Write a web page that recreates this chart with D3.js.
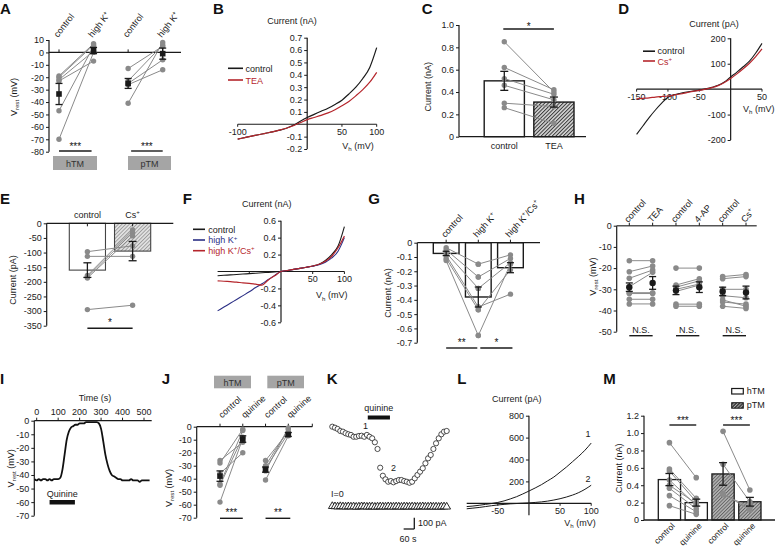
<!DOCTYPE html>
<html><head><meta charset="utf-8">
<script src="https://cdn.jsdelivr.net/npm/d3@7"></script>
<style>
html,body{margin:0;padding:0;background:#fff;}
svg{display:block;font-family:"Liberation Sans",Arial,Helvetica,sans-serif;}
</style></head><body>
<script>
// ---------------- DATA ----------------
// A
const aCats = ["hTM control","hTM high K+","pTM control","pTM high K+"];
const aCatLabels = ["control","high K^{+}","control","high K^{+}"];
const aHtmControl = [-19,-20,-22,-23,-47,-70];
const aHtmHighK   = [7,6,1,-7,5,0];
const aPtmControl = [-13,-23,-25,-26,-41];
const aPtmHighK   = [5,6,-6,-14,8];
const aMeans = [-33.5,1.5,-25,-1];
const aErr   = [8.5,2.5,4,4.5];
const aYTicks = [10,0,-10,-20,-30,-40,-50,-60,-70,-80];
// B
const bVoltage = [-100,-90,-80,-70,-60,-50,-40,-30,-20,-10,0,10,20,30,40,50,60,70,80,90,100];
const bControl = [-0.12,-0.108,-0.096,-0.085,-0.073,-0.062,-0.048,-0.032,-0.008,0.025,0.055,0.08,0.105,0.13,0.16,0.195,0.245,0.3,0.37,0.46,0.62];
const bTEA     = [-0.12,-0.108,-0.096,-0.085,-0.073,-0.062,-0.048,-0.032,-0.012,0.012,0.038,0.055,0.072,0.092,0.118,0.15,0.185,0.23,0.28,0.34,0.42];
const bYTicks = [0.7,0.6,0.5,0.4,0.3,0.2,0.1,-0.1,-0.2];
const bXTicks = [-100,50,100];
// C
const cCats = ["control","TEA"];
const cMeans = [0.5,0.31];
const cErr = [0.085,0.045];
const cControl = [0.85,0.62,0.52,0.46,0.30,0.26];
const cTEA     = [0.40,0.42,0.38,0.33,0.27,0.12];
const cYTicks = [0,0.2,0.4,0.6,0.8,1.0];
// D
const dVoltage = [-150,-140,-130,-120,-110,-100,-90,-80,-70,-60,-50,-40,-30,-20,-10,0,10,20,30,40,50];
const dControl = [-178,-145,-112,-82,-55,-32,-22,-16,-11,-7,-4,1,7,15,28,48,67,88,110,142,180];
const dCs      = [-38,-36,-34,-31,-29,-27,-23,-19,-14,-9,-5,0,6,14,26,42,60,80,102,128,158];
const dYTicks = [200,100,-100,-200];
const dXTicks = [-150,-100,-50,50];
// E
const eCats = ["control","Cs^{+}"];
const eMeans = [-160,-95];
const eErr = [25,33];
const eControl = [-97,-113,-178,-183,-187,-295];
const eCs      = [-77,-113,-23,-32,-43,-280];
const eYTicks = [0,-50,-100,-150,-200,-250,-300,-350];
// F
const fVoltage = [-100,-90,-80,-70,-60,-50,-40,-30,-20,-10,0,10,20,30,40,50,60,70,80,90,100];
const fControl = [-0.05,-0.045,-0.04,-0.035,-0.03,-0.025,-0.02,-0.015,-0.01,-0.005,0,0.012,0.025,0.037,0.05,0.065,0.085,0.13,0.2,0.3,0.53];
const fHighK   = [-0.465,-0.42,-0.375,-0.33,-0.285,-0.24,-0.19,-0.145,-0.095,-0.047,0,0.012,0.025,0.037,0.05,0.063,0.08,0.11,0.16,0.24,0.4];
const fHighKCs = [-0.11,-0.115,-0.12,-0.125,-0.135,-0.14,-0.15,-0.16,-0.1,-0.05,0,0.012,0.025,0.037,0.05,0.065,0.085,0.12,0.18,0.28,0.42];
const fYTicks = [0.6,0.4,0.2,-0.2,-0.4,-0.6];
const fXTicks = [50,100];
// G
const gCats = ["control","high K^{+}","high K^{+}/Cs^{+}"];
const gMeans = [-0.075,-0.38,-0.175];
const gErr = [0.015,0.07,0.035];
const gControl = [-0.035,-0.05,-0.07,-0.09,-0.11,-0.125];
const gHighK   = [-0.15,-0.24,-0.32,-0.45,-0.47,-0.65];
const gHighKCs = [-0.085,-0.11,-0.14,-0.36,-0.19,-0.15];
const gYTicks = [0,-0.1,-0.2,-0.3,-0.4,-0.5,-0.6,-0.7];
// H
const hCatLabels = ["control","TEA","control","4-AP","control","Cs^{+}"];
const hTeaControl = [-16.5,-21.7,-24.8,-28.8,-31.6,-32,-34.7,-36.9];
const hTea        = [-16.5,-19,-20.9,-22,-31.6,-32,-34.7,-36.9];
const hApControl  = [-20,-28,-29,-30,-31,-37,-38];
const hAp         = [-20,-25,-26,-27.5,-28,-37,-38];
const hCsControl  = [-24,-25,-30,-33,-35,-36,-38];
const hCs         = [-23,-24,-30,-34,-38,-37,-39];
const hMeans = [-29,-27,-30.5,-29,-31,-31.5];
const hErr   = [2,3,2,2.5,2,3];
const hYTicks = [0,-10,-20,-30,-40,-50];
// I
const iTime  = [-10,0,10,20,30,40,50,60,70,80,90,100,110,120,130,140,150,160,170,180,190,200,210,220,230,240,250,260,270,280,290,300,310,320,330,340,350,360,370,380,390,400,410,420,430,440,450,460,470,480,490,500,510,520,526];
const iVrest = [-43,-44,-43,-44,-43,-43,-44,-43,-44,-43,-43,-43,-42,-36,-25,-14,-8,-5,-4,-3,-3,-2,-2,-2,-1,-1,-1,-1,-1,-1,-2,-6,-15,-25,-32,-37,-40,-41,-42,-43,-43,-44,-44,-44,-44,-43,-44,-44,-44,-45,-44,-44,-44,-44,-44];
const iQuinine = [60,178];
const iYTicks = [0,-10,-20,-30,-40,-50,-60,-70];
const iXTicks = [0,100,200,300,400,500];
// J
const jCats = ["hTM control","hTM quinine","pTM control","pTM quinine"];
const jCatLabels = ["control","quinine","control","quinine"];
const jHtmControl = [-26,-28,-36,-44,-45,-58];
const jHtmQuinine = [-12,-2,-20,-3,-8,-9];
const jPtmControl = [-26,-30,-32,-34,-41];
const jPtmQuinine = [-4,-2,-5,-1,-7];
const jMeans = [-38,-9.5,-33,-6];
const jErr   = [4,2.5,2,1.5];
const jYTicks = [0,-10,-20,-30,-40,-50,-60,-70];
// K
const kSampleInterval = 15; // s
const kCurrent = [708,699,688,670,664,650,641,635,619,619,626,628,619,635,619,605,570,511,345,274,242,221,227,216,227,236,236,227,221,212,221,251,281,310,340,384,428,458,511,561,605,641,664,670];
const kIzero   = [4,2,0,3,1,-1,2,0,1,-2,0,2,1,-1,0,1,-2,0,1,0,-1,2,0,-1,1,0,-2,1,0,-1,1,0,-1,0,2,-1,0,1,-1,0,-2,0,1,-1];
const kQuinine = [200,325];
// L
const lVoltage = [-100,-90,-80,-70,-60,-50,-40,-30,-20,-10,0,10,20,30,40,50,60,70,80,90,100];
const lTrace1 = [-30,-25,-18,-10,-2,8,22,40,60,85,112,140,170,205,240,285,330,380,430,485,550];
const lTrace2 = [-50,-44,-38,-30,-22,-15,-10,-5,-2,1,4,8,13,20,30,42,57,75,98,128,165];
const lYTicks = [800,600,400,200];
const lXTicks = [-50,50,100];
// M
const mCats = ["hTM control","hTM quinine","pTM control","pTM quinine"];
const mCatLabels = ["control","quinine","control","quinine"];
const mMeans = [0.465,0.2,0.53,0.21];
const mErr   = [0.07,0.04,0.13,0.05];
const mHtmControl = [0.89,0.587,0.564,0.46,0.40,0.365,0.28,0.165];
const mHtmQuinine = [0.487,0.25,0.21,0.17,0.19,0.13,0.095,0.065];
const mPtmControl = [1.02,0.64,0.307,0.29];
const mPtmQuinine = [0.345,0.21,0.115,0.153];
const mYTicks = [0,0.2,0.4,0.6,0.8,1.0,1.2];

// ---------------- HELPERS ----------------
const W=775,H=546,FS=9;
const INK="#1a1a1a", GRAY="#8a8a8a", RED="#b5262c", BLUE="#2b2f85";
const svg=d3.select("body").append("svg").attr("width",W).attr("height",H);
const defs=svg.append("defs");
function hatch(id,bg,fg,sp,sw){
  const p=defs.append("pattern").attr("id",id).attr("patternUnits","userSpaceOnUse")
    .attr("width",sp).attr("height",sp).attr("patternTransform","rotate(45)");
  p.append("rect").attr("width",sp).attr("height",sp).attr("fill",bg);
  p.append("line").attr("x1",0.5).attr("y1",0).attr("x2",0.5).attr("y2",sp).attr("stroke",fg).attr("stroke-width",sw);
}
hatch("hC","#d4d4d4","#2a2a2a",2.6,0.9);
hatch("hE","#e2e2e2","#8f8f8f",2.6,0.8);
hatch("hM","#b4b4b4","#555",2.4,0.8);
hatch("hML","#3a3a3a","#d0d0d0",2.4,0.7);

function rich(t,str,size){
  const parts=[]; const re=/([_^])\{([^}]*)\}/g; let last=0,m;
  while((m=re.exec(str))){ if(m.index>last) parts.push({s:str.slice(last,m.index)}); parts.push({s:m[2],k:m[1]}); last=re.lastIndex; }
  if(last<str.length) parts.push({s:str.slice(last)});
  let cur=0;
  parts.forEach(p=>{
    const target=p.k==="^"?-size*0.4:p.k==="_"?size*0.3:0;
    const ts=t.append("tspan").text(p.s);
    if(target!==cur) ts.attr("dy",target-cur);
    if(p.k) ts.attr("font-size",size*0.68);
    cur=target;
  });
  return t;
}
function text(g,x,y,str,o={}){
  const size=o.size||FS;
  const t=g.append("text").attr("x",x).attr("y",y).attr("font-size",size)
    .attr("text-anchor",o.anchor||"start").attr("fill",o.fill||INK);
  if(o.weight) t.attr("font-weight",o.weight);
  rich(t,str,size);
  return t;
}
function rotText(g,x,y,str,angle,anchor,size){
  size=size||FS;
  const t=g.append("text").attr("transform",`translate(${x},${y}) rotate(${angle})`)
    .attr("font-size",size).attr("fill",INK).attr("text-anchor",anchor||"start");
  rich(t,str,size); return t;
}
function yTitle(g,x,y,str){ return rotText(g,x,y,str,-90,"middle"); }
function plabel(x,y,s){ svg.append("text").attr("x",x).attr("y",y).attr("font-size",15).attr("font-weight","bold").attr("fill","#111").text(s); }
const fmtNum=d=>d===0?"0":String(d);
const fmt1=d=>d===0?"0":d.toFixed(1);
function yAxis(g,scale,x,vals,fmt,extent){
  const a=g.append("g").attr("transform",`translate(${x},0)`)
    .call(d3.axisLeft(scale).tickValues(vals).tickFormat(fmt).tickSize(3).tickSizeOuter(0).tickPadding(2));
  a.attr("font-family",null).attr("font-size",FS);
  a.selectAll("text").attr("fill",INK);
  a.selectAll("line").attr("stroke",INK);
  a.select(".domain").remove();
  const ext=extent||scale.domain();
  a.append("line").attr("x1",0).attr("x2",0).attr("y1",scale(ext[0])).attr("y2",scale(ext[1])).attr("stroke",INK).attr("stroke-width",1.2);
  return a;
}
function hline(g,x1,x2,y,o={}){ return g.append("line").attr("x1",x1).attr("x2",x2).attr("y1",y).attr("y2",y).attr("stroke",o.stroke||INK).attr("stroke-width",o.w||1.2); }
function vline(g,x,y1,y2,o={}){ return g.append("line").attr("x1",x).attr("x2",x).attr("y1",y1).attr("y2",y2).attr("stroke",o.stroke||INK).attr("stroke-width",o.w||1.2); }
function pairs(g,x1,x2,v1,v2,y,r){
  r=r||2.7;
  v1.forEach((a,i)=>g.append("line").attr("x1",x1).attr("y1",y(a)).attr("x2",x2).attr("y2",y(v2[i])).attr("stroke",GRAY).attr("stroke-width",1));
  v1.forEach(a=>g.append("circle").attr("cx",x1).attr("cy",y(a)).attr("r",r).attr("fill",GRAY));
  v2.forEach(a=>g.append("circle").attr("cx",x2).attr("cy",y(a)).attr("r",r).attr("fill",GRAY));
}
function errbar(g,x,m,e,y,marker,cap){
  cap=cap||3.5;
  vline(g,x,y(m-e),y(m+e),{w:1.3});
  hline(g,x-cap,x+cap,y(m-e),{w:1.3}); hline(g,x-cap,x+cap,y(m+e),{w:1.3});
  if(marker==="square") g.append("rect").attr("x",x-2.8).attr("y",y(m)-2.8).attr("width",5.6).attr("height",5.6).attr("fill",INK);
  if(marker==="circle") g.append("circle").attr("cx",x).attr("cy",y(m)).attr("r",3.2).attr("fill",INK);
}
function sig(g,x1,x2,yLine,str,yText){ hline(g,x1,x2,yLine,{w:1.4}); text(g,(x1+x2)/2,yText,str,{anchor:"middle",size:10,fill:"#111"}); }
function trace(g,xs,ys,x,y,color,w){
  g.append("path").datum(xs.map((v,i)=>[v,ys[i]])).attr("fill","none").attr("stroke",color).attr("stroke-width",w||1.1)
    .attr("stroke-linejoin","round").attr("d",d3.line().x(d=>x(d[0])).y(d=>y(d[1])).curve(d3.curveMonotoneX));
}
function xAxisIV(g,x,y,ticks,labY){
  hline(g,x.range()[0],x.range()[1],y(0),{w:1.2});
  ticks.forEach(t=>{ vline(g,x(t),y(0),y(0)+2.5,{w:1}); text(g,x(t),labY,fmtNum(t),{anchor:"middle"}); });
}

// ---------------- PANEL A ----------------
{
  const g=svg.append("g");
  plabel(0,14,"A");
  const y=d3.scaleLinear().domain([-80,10]).range([151.7,40]);
  const x=d3.scalePoint().domain(aCats).range([59,162.7]);
  yAxis(g,y,49,aYTicks,fmtNum);
  hline(g,49,181,y(0),{w:1.4});
  aCats.forEach(c=>vline(g,x(c),y(0),y(0)-3,{w:1}));
  pairs(g,x(aCats[0]),x(aCats[1]),aHtmControl,aHtmHighK,y);
  pairs(g,x(aCats[2]),x(aCats[3]),aPtmControl,aPtmHighK,y);
  aCats.forEach((c,i)=>errbar(g,x(c),aMeans[i],aErr[i],y,"square"));
  aCats.forEach((c,i)=>rotText(g,x(c)-1,38,aCatLabels[i],-52));
  yTitle(g,16.5,97,"V_{rest} (mV)");
  sig(g,x(aCats[0]),x(aCats[1])-2,151,"***",150);
  sig(g,x(aCats[2])+3,x(aCats[3]),151,"***",150);
  [["hTM",53,97],["pTM",128,171]].forEach(([s,x1,x2])=>{
    g.append("rect").attr("x",x1).attr("y",156).attr("width",x2-x1).attr("height",14).attr("fill","#a5a5a5");
    text(g,(x1+x2)/2,166.5,s,{anchor:"middle",fill:"#333"});
  });
}
// ---------------- PANEL B ----------------
{
  const g=svg.append("g");
  plabel(213,14,"B");
  const x=d3.scaleLinear().domain([-100,100]).range([237.7,376.7]);
  const y=d3.scaleLinear().domain([-0.2,0.7]).range([149,37.7]);
  yAxis(g,y,x(0),bYTicks,fmt1);
  xAxisIV(g,x,y,bXTicks,135);
  trace(g,bVoltage,bControl,x,y,INK,1.2);
  trace(g,bVoltage,bTEA,x,y,RED,1.2);
  text(g,292,24,"Current (nA)",{anchor:"middle"});
  text(g,358,148.5,"V_{h} (mV)",{anchor:"middle"});
  hline(g,228,243,68.3,{w:1.6}); text(g,245.5,71.5,"control");
  hline(g,228,243,80,{w:1.6,stroke:RED}); text(g,245.5,83.5,"TEA",{fill:RED});
}
// ---------------- PANEL C ----------------
{
  const g=svg.append("g");
  plabel(421.7,14,"C");
  const y=d3.scaleLinear().domain([0,1]).range([136.7,25]);
  const x=d3.scaleBand().domain(cCats).range([484.2,574]).paddingInner(0.19).paddingOuter(0);
  yAxis(g,y,459,cYTicks,fmt1);
  g.selectAll("rect.bar").data(cCats).join("rect").attr("class","bar")
    .attr("x",d=>x(d)).attr("width",x.bandwidth()).attr("y",(d,i)=>y(cMeans[i])).attr("height",(d,i)=>y(0)-y(cMeans[i]))
    .attr("fill",(d,i)=>i===0?"#fff":"url(#hC)").attr("stroke",INK).attr("stroke-width",1.4);
  hline(g,459,586,y(0),{w:1.3});
  const cx=d=>x(d)+x.bandwidth()/2;
  pairs(g,cx(cCats[0]),cx(cCats[1]),cControl,cTEA,y);
  cCats.forEach((c,i)=>errbar(g,cx(c),cMeans[i],cErr[i],y,null,4));
  cCats.forEach(c=>text(g,cx(c),149,c,{anchor:"middle"}));
  yTitle(g,430.5,86.7,"Current (nA)");
  sig(g,cx(cCats[0])-1,cx(cCats[1]),29,"*",30);
}
// ---------------- PANEL D ----------------
{
  const g=svg.append("g");
  plabel(618.3,14,"D");
  const x=d3.scaleLinear().domain([-150,50]).range([636.6,762]);
  const y=d3.scaleLinear().domain([-200,200]).range([140,38.3]);
  yAxis(g,y,x(0),dYTicks,fmtNum);
  xAxisIV(g,x,y,dXTicks,100);
  trace(g,dVoltage,dControl,x,y,INK,1.1);
  trace(g,dVoltage,dCs,x,y,RED,1.2);
  text(g,714,26.5,"Current (pA)",{anchor:"middle"});
  text(g,774.5,111.5,"V_{h} (mV)",{anchor:"end"});
  hline(g,643,655,51.2,{w:1.6}); text(g,657.5,54.3,"control");
  hline(g,643,655,61,{w:1.6,stroke:RED}); text(g,657.5,64.8,"Cs^{+}",{fill:RED});
}
// ---------------- PANEL E ----------------
{
  const g=svg.append("g");
  plabel(0,203.5,"E");
  const y=d3.scaleLinear().domain([-350,0]).range([325.7,223.3]);
  const x=d3.scaleBand().domain(eCats).range([69.3,150.7]).paddingInner(0.2).paddingOuter(0);
  yAxis(g,y,46.7,eYTicks,fmtNum);
  g.selectAll("rect.bar").data(eCats).join("rect").attr("class","bar")
    .attr("x",d=>x(d)).attr("width",x.bandwidth()).attr("y",y(0)).attr("height",(d,i)=>y(eMeans[i])-y(0))
    .attr("fill",(d,i)=>i===0?"#fff":"url(#hE)").attr("stroke","#444").attr("stroke-width",1.1);
  hline(g,46.7,173.3,y(0),{w:1.3});
  const cx=d=>x(d)+x.bandwidth()/2;
  eCats.forEach(c=>vline(g,cx(c),y(0),y(0)+3,{w:1}));
  pairs(g,cx(eCats[0]),cx(eCats[1]),eControl,eCs,y);
  eCats.forEach((c,i)=>errbar(g,cx(c),eMeans[i],eErr[i],y,null,4));
  eCats.forEach(c=>text(g,cx(c),218,c,{anchor:"middle"}));
  yTitle(g,15.5,280,"Current (pA)");
  sig(g,cx(eCats[0]),cx(eCats[1]),328.3,"*",326);
}
// ---------------- PANEL F ----------------
{
  const g=svg.append("g");
  plabel(182.7,203.5,"F");
  const x=d3.scaleLinear().domain([-100,100]).range([217.6,344.4]);
  const y=d3.scaleLinear().domain([-0.6,0.6]).range([322.3,220.7]);
  yAxis(g,y,x(0),fYTicks,fmt1);
  xAxisIV(g,x,y,fXTicks,282);
  vline(g,x(-50),y(0),y(0)+2.5,{w:1});
  trace(g,fVoltage,fControl,x,y,INK,1.1);
  trace(g,fVoltage,fHighK,x,y,BLUE,1.1);
  trace(g,fVoltage,fHighKCs,x,y,RED,1.2);
  text(g,266.7,207,"Current (nA)",{anchor:"middle"});
  text(g,331.7,298.3,"V_{h} (mV)",{anchor:"middle"});
  hline(g,193,205,229.3,{w:1.6}); text(g,208.3,232.5,"control");
  hline(g,193,205,240,{w:1.6,stroke:BLUE}); text(g,208.3,243.2,"high K^{+}",{fill:BLUE});
  hline(g,193,205,250.7,{w:1.6,stroke:RED}); text(g,208.3,254,"high K^{+}/Cs^{+}",{fill:RED});
}
// ---------------- PANEL G ----------------
{
  const g=svg.append("g");
  plabel(368.3,203.5,"G");
  const y=d3.scaleLinear().domain([-0.7,0]).range([342.7,242.7]);
  const x=d3.scaleBand().domain(gCats).range([433.3,523.3]).paddingInner(0.2).paddingOuter(0);
  yAxis(g,y,417.3,gYTicks,fmt1);
  g.selectAll("rect.bar").data(gCats).join("rect").attr("class","bar")
    .attr("x",d=>x(d)).attr("width",x.bandwidth()).attr("y",y(0)).attr("height",(d,i)=>y(gMeans[i])-y(0))
    .attr("fill","#fff").attr("stroke",INK).attr("stroke-width",1.4);
  hline(g,417.3,540,y(0),{w:1.3});
  const cx=d=>x(d)+x.bandwidth()/2;
  gCats.forEach(c=>vline(g,cx(c),y(0),y(0)-3,{w:1}));
  pairs(g,cx(gCats[0]),cx(gCats[1]),gControl,gHighK,y);
  pairs(g,cx(gCats[1]),cx(gCats[2]),gHighK,gHighKCs,y);
  gCats.forEach((c,i)=>errbar(g,cx(c),gMeans[i],gErr[i],y,null,3.5));
  gCats.forEach(c=>rotText(g,cx(c)-1,238,c,-48));
  yTitle(g,390.5,293,"Current (nA)");
  sig(g,cx(gCats[0]),cx(gCats[1])-1,348,"**",346);
  sig(g,cx(gCats[1])+2,cx(gCats[2])+2,348,"*",346);
}
// ---------------- PANEL H ----------------
{
  const g=svg.append("g");
  plabel(574,203.5,"H");
  const y=d3.scaleLinear().domain([-50,0]).range([331.7,225.7]);
  const x=d3.scalePoint().domain(d3.range(hCatLabels.length)).range([629.3,746]);
  yAxis(g,y,616.7,hYTicks,fmtNum);
  hline(g,616.7,756.7,y(0),{w:1.5,stroke:"#555"});
  hCatLabels.forEach((c,i)=>vline(g,x(i),y(0),y(0)-3,{w:1}));
  pairs(g,x(0),x(1),hTeaControl,hTea,y,2.8);
  pairs(g,x(2),x(3),hApControl,hAp,y,2.8);
  pairs(g,x(4),x(5),hCsControl,hCs,y,2.8);
  hCatLabels.forEach((c,i)=>errbar(g,x(i),hMeans[i],hErr[i],y,"circle",3.5));
  hCatLabels.forEach((c,i)=>rotText(g,x(i)-1,223,c,-48));
  yTitle(g,595.5,276.7,"V_{rest} (mV)");
  [[0,1],[2,3],[4,5]].forEach(([a,b])=>{ hline(g,x(a),x(b),335.7,{w:1.4}); text(g,(x(a)+x(b))/2,332.5,"N.S.",{anchor:"middle"}); });
}
// ---------------- PANEL I ----------------
{
  const g=svg.append("g");
  plabel(0,383.5,"I");
  const x=d3.scaleLinear().domain([0,500]).range([36.7,144]);
  const y=d3.scaleLinear().domain([-70,0]).range([515.7,420.7]);
  yAxis(g,y,34.3,iYTicks,fmtNum);
  hline(g,34.3,151.7,y(0),{w:1.2});
  iXTicks.forEach(t=>{ vline(g,x(t),y(0),y(0)-3,{w:1}); text(g,x(t),414.5,String(t),{anchor:"middle"}); });
  text(g,95,401,"Time (s)",{anchor:"middle"});
  g.append("path").datum(iTime.map((t,i)=>[t,iVrest[i]])).attr("fill","none").attr("stroke","#111").attr("stroke-width",1.8)
    .attr("d",d3.line().x(d=>x(d[0])).y(d=>y(d[1])).curve(d3.curveMonotoneX));
  g.append("rect").attr("x",x(iQuinine[0])).attr("y",500).attr("width",x(iQuinine[1])-x(iQuinine[0])).attr("height",4.5).attr("fill","#111");
  text(g,(x(iQuinine[0])+x(iQuinine[1]))/2,497,"Quinine",{anchor:"middle"});
  yTitle(g,13.5,468.3,"V_{rest} (mV)");
}
// ---------------- PANEL J ----------------
{
  const g=svg.append("g");
  plabel(161.7,383.5,"J");
  const y=d3.scaleLinear().domain([-70,0]).range([517.7,426.7]);
  const x=d3.scalePoint().domain(jCats).range([220,288.3]);
  yAxis(g,y,196.7,jYTicks,fmtNum);
  hline(g,196.7,312.3,y(0),{w:1.3});
  jCats.forEach(c=>vline(g,x(c),y(0),y(0)-3,{w:1}));
  vline(g,312.3,y(0),y(0)-3,{w:1});
  pairs(g,x(jCats[0]),x(jCats[1]),jHtmControl,jHtmQuinine,y);
  pairs(g,x(jCats[2]),x(jCats[3]),jPtmControl,jPtmQuinine,y);
  jCats.forEach((c,i)=>errbar(g,x(c),jMeans[i],jErr[i],y,"square",3.5));
  jCats.forEach((c,i)=>rotText(g,x(c)+2,418.5,jCatLabels[i],-42));
  yTitle(g,171.5,488,"V_{rest} (mV)");
  sig(g,x(jCats[0]),x(jCats[1]),518.3,"***",516);
  sig(g,x(jCats[2]),x(jCats[3])+2,518.3,"**",516);
  [["hTM",214,251],["pTM",267.3,304]].forEach(([s,x1,x2])=>{
    g.append("rect").attr("x",x1).attr("y",375.7).attr("width",x2-x1).attr("height",12.6).attr("fill","#a5a5a5");
    text(g,(x1+x2)/2,385.5,s,{anchor:"middle",fill:"#333"});
  });
}
// ---------------- PANEL K ----------------
{
  const g=svg.append("g");
  plabel(326.7,383.5,"K");
  const n=kCurrent.length;
  const x=d3.scaleLinear().domain([0,(n-1)*kSampleInterval]).range([332.3,446.7]);
  const y=d3.scaleLinear().domain([0,800]).range([506.7,416.3]);
  const tri=d3.symbol().type(d3.symbolTriangle).size(26);
  kIzero.forEach((v,i)=>g.append("path").attr("d",tri).attr("transform",`translate(${x(i*kSampleInterval)},${y(v)})`)
    .attr("fill","#fff").attr("stroke","#111").attr("stroke-width",0.9));
  kCurrent.forEach((v,i)=>g.append("circle").attr("cx",x(i*kSampleInterval)).attr("cy",y(v)).attr("r",2.6)
    .attr("fill","#fff").attr("stroke","#222").attr("stroke-width",0.8));
  g.append("rect").attr("x",x(kQuinine[0])).attr("y",415.5).attr("width",x(kQuinine[1])-x(kQuinine[0])).attr("height",4).attr("fill","#111");
  text(g,(x(kQuinine[0])+x(kQuinine[1]))/2,411,"quinine",{anchor:"middle"});
  text(g,363,428.5,"1"); text(g,391,471,"2");
  text(g,331,497,"I=0");
  const bx=414.3, by=529;
  vline(g,bx,by,by-(y(0)-y(100)),{w:1.3});
  hline(g,bx-(x(60)-x(0)),bx,by,{w:1.3});
  text(g,418,525.5,"100 pA");
  text(g,408,541.5,"60 s",{anchor:"middle"});
}
// ---------------- PANEL L ----------------
{
  const g=svg.append("g");
  plabel(457.3,383.5,"L");
  const x=d3.scaleLinear().domain([-100,100]).range([466.7,591.2]);
  const y=d3.scaleLinear().domain([-110,800]).range([515.35,415.7]);
  yAxis(g,y,x(0),lYTicks,fmtNum);
  xAxisIV(g,x,y,lXTicks,513.5);
  trace(g,lVoltage,lTrace1,x,y,INK,1);
  trace(g,lVoltage,lTrace2,x,y,INK,1);
  text(g,588,437,"1",{anchor:"middle"});
  text(g,588,482,"2",{anchor:"middle"});
  text(g,516.7,401.5,"Current (pA)",{anchor:"middle"});
  text(g,580,525.5,"V_{h} (mV)",{anchor:"middle"});
}
// ---------------- PANEL M ----------------
{
  const g=svg.append("g");
  plabel(603.3,383.5,"M");
  const y=d3.scaleLinear().domain([0,1.2]).range([520,415.7]);
  const x=d3.scaleBand().domain(mCats).range([658.3,761]).paddingInner(0.17).paddingOuter(0);
  yAxis(g,y,644,mYTicks,fmt1);
  g.selectAll("rect.bar").data(mCats).join("rect").attr("class","bar")
    .attr("x",d=>x(d)).attr("width",x.bandwidth()).attr("y",(d,i)=>y(mMeans[i])).attr("height",(d,i)=>y(0)-y(mMeans[i]))
    .attr("fill",(d,i)=>i<2?"#fff":"url(#hM)").attr("stroke",INK).attr("stroke-width",1.3);
  hline(g,644,775,y(0),{w:1.3});
  const cx=d=>x(d)+x.bandwidth()/2;
  pairs(g,cx(mCats[0]),cx(mCats[1]),mHtmControl,mHtmQuinine,y,2.8);
  pairs(g,cx(mCats[2]),cx(mCats[3]),mPtmControl,mPtmQuinine,y,2.8);
  mCats.forEach((c,i)=>errbar(g,cx(c),mMeans[i],mErr[i],y,null,4));
  mCats.forEach((c,i)=>rotText(g,cx(c)+6,526.5,mCatLabels[i],-45,"end",8.5));
  yTitle(g,622,468.3,"Current (nA)");
  sig(g,cx(mCats[0]),cx(mCats[1]),425,"***",424);
  sig(g,cx(mCats[2]),cx(mCats[3]),425,"***",424);
  g.append("rect").attr("x",731.7).attr("y",388.5).attr("width",11.6).attr("height",5.5).attr("fill","#fff").attr("stroke",INK).attr("stroke-width",1.2);
  text(g,746.7,394,"hTM");
  g.append("rect").attr("x",731.7).attr("y",402.7).attr("width",11.6).attr("height",5.5).attr("fill","url(#hML)").attr("stroke",INK).attr("stroke-width",1);
  text(g,746.7,408.3,"pTM");
}
</script></body></html>
